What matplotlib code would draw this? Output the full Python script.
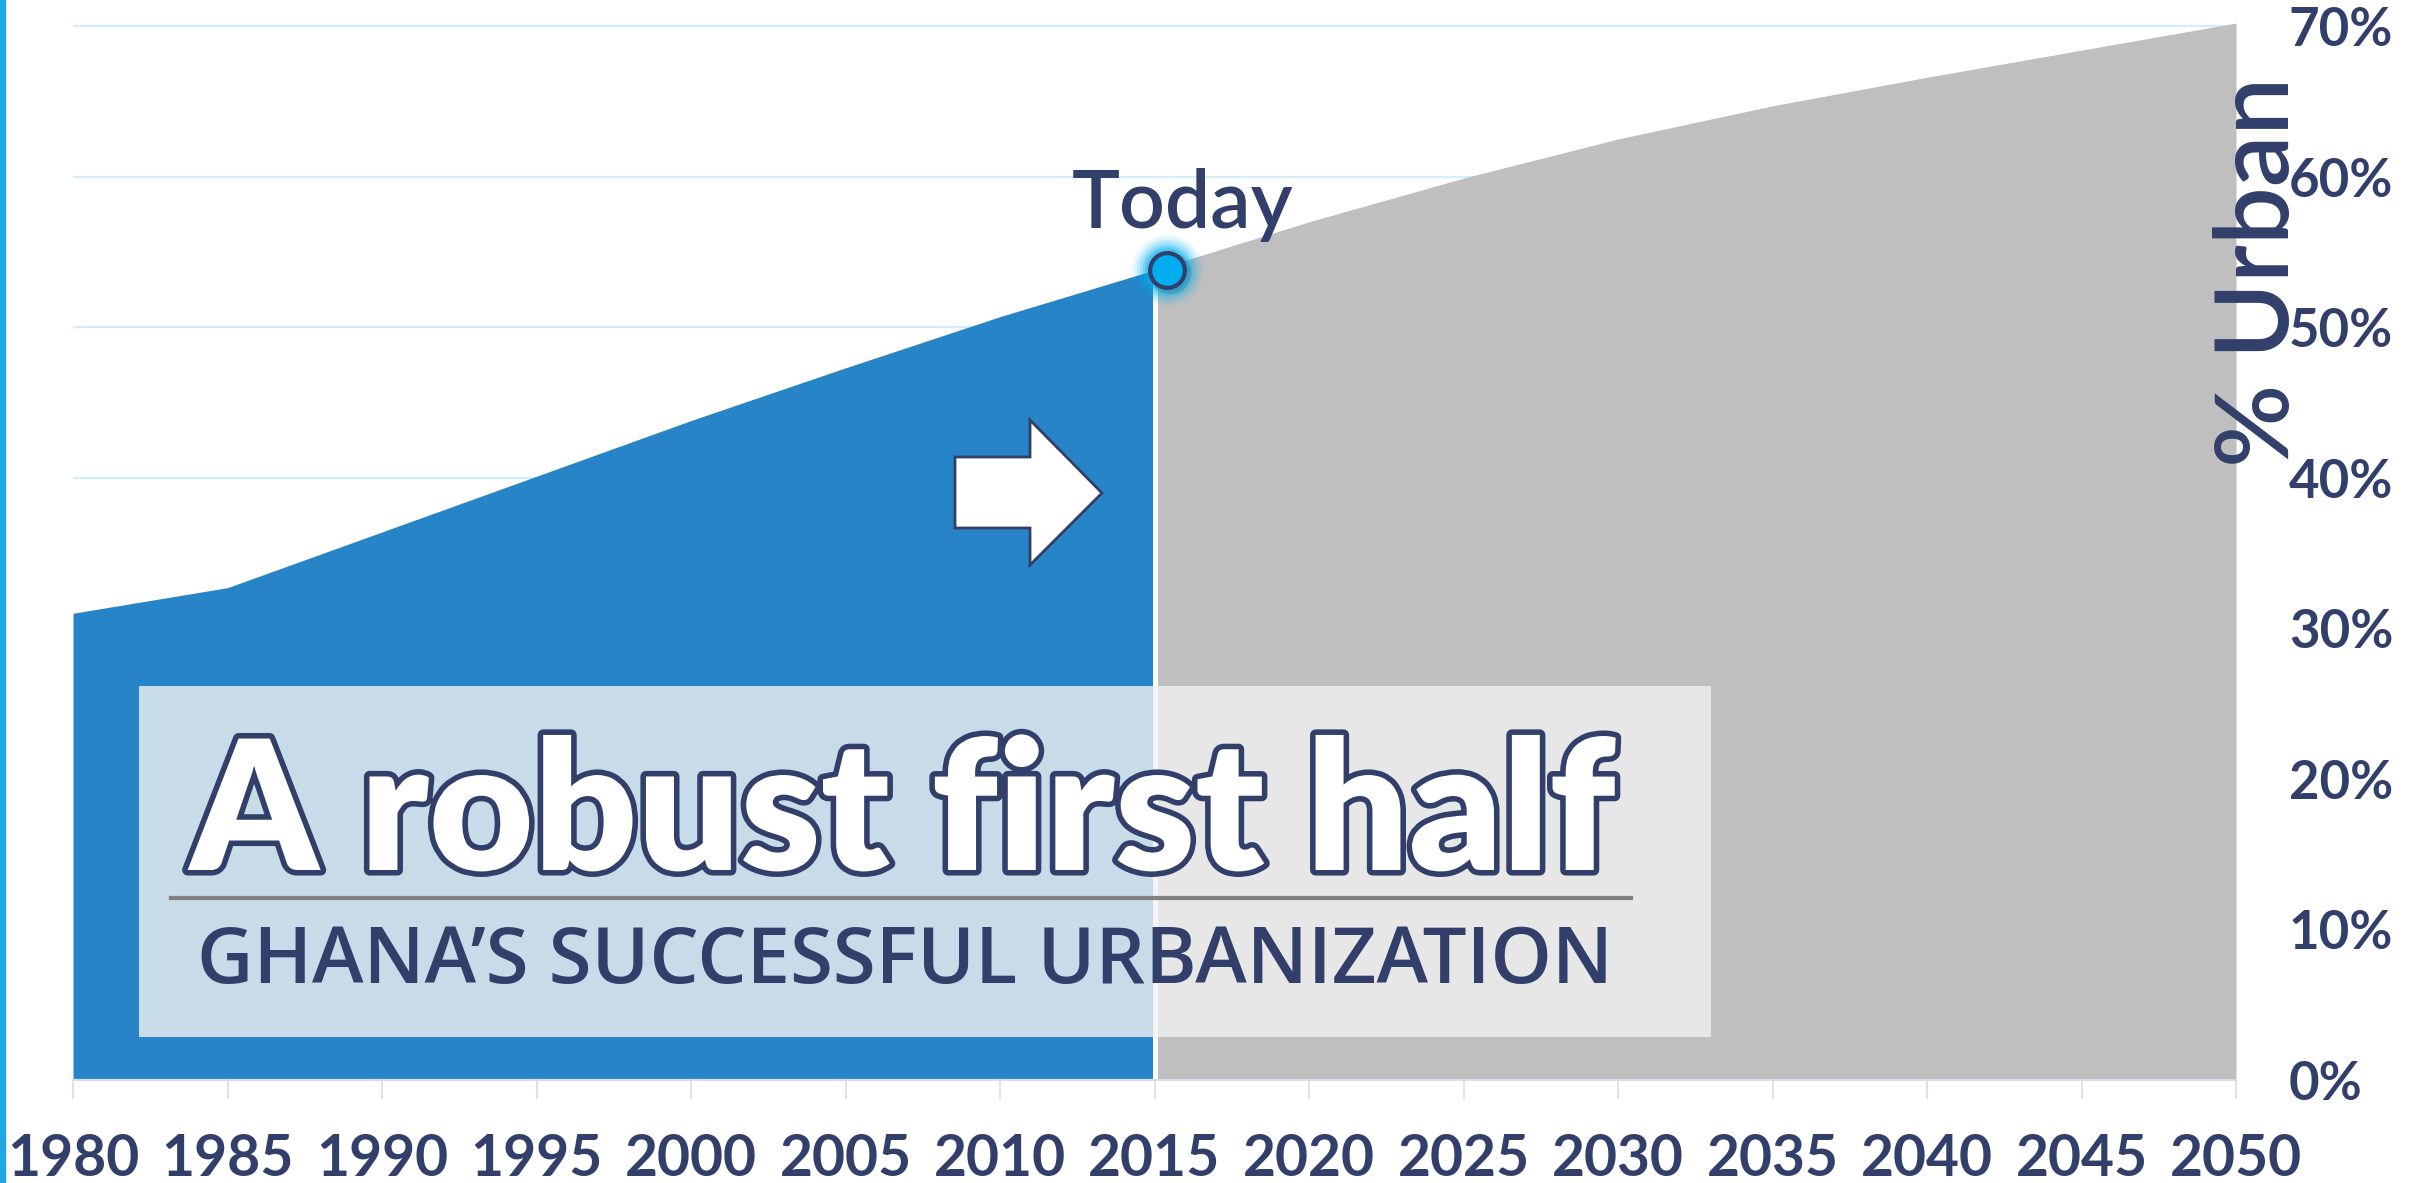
import matplotlib
matplotlib.use('Agg')
import matplotlib.pyplot as plt
from matplotlib.patches import Rectangle, Polygon
from matplotlib.lines import Line2D
import matplotlib.patheffects as pe
from matplotlib.transforms import ScaledTranslation

# ---------------- data ----------------
years = [1980, 1985, 1990, 1995, 2000, 2005, 2010, 2015,
         2020, 2025, 2030, 2035, 2040, 2045, 2050]
urban_pct = [31.0, 32.7, 36.4, 40.1, 43.8, 47.3, 50.7, 53.8,
             57.0, 59.9, 62.5, 64.7, 66.6, 68.4, 70.2]
today_year = 2015
x_tick_labels = [str(y) for y in years]
y_ticks = [0, 10, 20, 30, 40, 50, 60, 70]
y_tick_labels = [f"{v}%" for v in y_ticks]
title = "A robust first half"
subtitle = "GHANA\u2019S SUCCESSFUL URBANIZATION"
ylabel = "% Urban"
marker_label = "Today"

# ---------------- style ----------------
NAVY = '#323f6a'
BLUE = '#2784c7'
GRAY = '#bfbfbf'
CYAN = '#00aeef'
GRID = '#d3edf9'
AXIS = '#d9dcee'

plt.rcParams['font.family'] = ['Lato', 'DejaVu Sans']
plt.rcParams['font.weight'] = 'bold'

W, H = 2425, 1183
fig = plt.figure(figsize=(W / 100, H / 100), dpi=100)
fig.patch.set_facecolor('white')


def fx(x):
    return x / W


def fy(y):
    return 1 - y / H


ax = fig.add_axes([fx(73), fy(1080), (2236 - 73) / W, (1080 - 11) / H])
ax.set_xlim(1980, 2050)
ax.set_ylim(0, 71)
ax.set_facecolor('none')

idx = years.index(today_year)
ax.fill_between(years[:idx + 1], 0, urban_pct[:idx + 1], color=BLUE, lw=0, zorder=2)
ax.fill_between(years[idx:], 0, urban_pct[idx:], color=GRAY, lw=0, zorder=2)
ax.plot([today_year, today_year], [0, urban_pct[idx]], color='white', lw=3.6,
        zorder=3, solid_capstyle='butt')

# axes / ticks
ax.set_xticks(years)
ax.set_xticklabels(x_tick_labels)
ax.set_yticks(y_ticks)
ax.set_yticklabels(y_tick_labels)
ax.yaxis.tick_right()
ax.yaxis.grid(True, color=GRID, lw=1.6)
ax.set_axisbelow(True)
for s in ['top', 'left', 'right']:
    ax.spines[s].set_visible(False)
ax.spines['bottom'].set_color(AXIS)
ax.spines['bottom'].set_linewidth(1.6)
ax.spines['bottom'].set_zorder(4)
ax.tick_params(axis='x', length=14, width=1.2, color=AXIS, pad=24,
               labelsize=41, labelcolor=NAVY)
ax.tick_params(axis='y', length=0, pad=38, labelsize=38, labelcolor=NAVY,
               labelright=True, labelleft=False)

# Today marker with glow
tr = ax.transData + ScaledTranslation(12 / 100, 0, fig.dpi_scale_trans)
trs = ax.transData + ScaledTranslation(15 / 100, -3 / 100, fig.dpi_scale_trans)
for ms, a in [(52, 0.06), (48, 0.09), (44, 0.13), (40, 0.18), (36, 0.26), (32, 0.36)]:
    ax.plot(today_year, urban_pct[idx], 'o', ms=ms, color=CYAN, alpha=a,
            mec='none', transform=tr, zorder=5, clip_on=False)
ax.plot(today_year, urban_pct[idx], 'o', ms=30, color='#1b3550', alpha=0.15,
        mec='none', transform=trs, zorder=5, clip_on=False)
ax.plot(today_year, urban_pct[idx], 'o', ms=25, mfc=CYAN, mec=NAVY, mew=3,
        transform=tr, zorder=6, clip_on=False)

# decorations in figure pixel space
ax.add_patch(Rectangle((0, 0), 5 / W, 1, transform=fig.transFigure,
                       color='#1fa8e2', clip_on=False, zorder=1))

arrow_px = [(955, 457), (1030, 457), (1030, 420), (1102, 493),
            (1030, 565), (1030, 528), (955, 528)]
ax.add_patch(Polygon([(fx(x), fy(y)) for x, y in arrow_px], closed=True,
                     transform=fig.transFigure, facecolor='white',
                     edgecolor=NAVY, lw=2, clip_on=False, zorder=5,
                     joinstyle='miter'))

ax.add_patch(Rectangle((fx(139), fy(1037)), (1711 - 139) / W, (1037 - 686) / H,
                       transform=fig.transFigure, facecolor='#f2f2f2',
                       alpha=0.8, lw=0, clip_on=False, zorder=7))
ax.add_line(Line2D([fx(171), fx(1631)], [fy(898), fy(898)],
                   transform=fig.transFigure, color='#808080', lw=3,
                   clip_on=False, zorder=8))

t_title = fig.text(fx(190), fy(870), title, fontsize=120, fontweight='heavy',
                   color='white', ha='left', va='baseline', zorder=9,
                   path_effects=[pe.Stroke(linewidth=8, foreground=NAVY),
                                 pe.Normal()])
t_sub = fig.text(fx(197), fy(983), subtitle, fontsize=50,
                 family=['Open Sans', 'DejaVu Sans'], fontweight='semibold',
                 color=NAVY, ha='left', va='baseline', zorder=9)
t_today = fig.text(fx(1183), fy(228), marker_label, fontsize=58,
                   fontweight='semibold', color=NAVY, ha='center', va='baseline',
                   zorder=9)
t_ylab = fig.text(fx(2260), fy(272), ylabel, fontsize=74, fontweight='semibold',
                  color=NAVY, ha='center', va='center', rotation=90, zorder=9)

# fit widths of the big texts
fig.canvas.draw()
r = fig.canvas.get_renderer()
for t, target in [(t_title, 1425), (t_sub, 1416)]:
    bb = t.get_window_extent(r)
    t.set_fontsize(t.get_fontsize() * target / bb.width)

fig.savefig('out.png', dpi=100, facecolor='white')
